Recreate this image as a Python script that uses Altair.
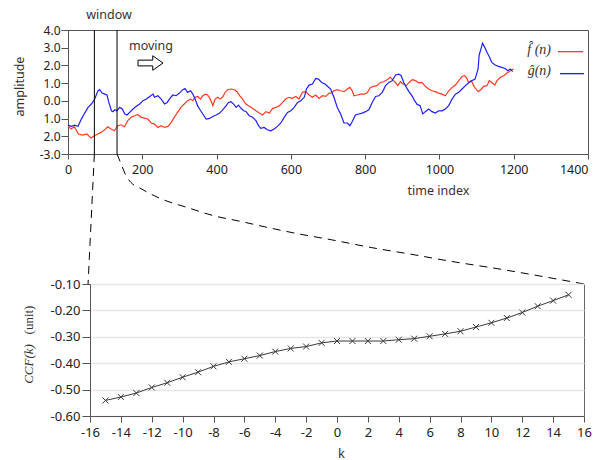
import altair as alt
import pandas as pd

# ---------------- data ----------------
f_t = [0, 8, 17, 28, 40, 51, 62, 71, 80, 89, 98, 107, 116, 125, 134, 143, 152, 161, 170, 179,
       188, 197, 206, 215, 224, 233, 242, 251, 260, 269, 278, 286, 295, 304, 313, 322, 330, 336,
       342, 349, 357, 363, 370, 376, 383, 390, 396, 403, 410, 417, 423, 430, 439, 448, 455, 462,
       470, 479, 488, 497, 506, 515, 524, 533, 542, 551, 560, 569, 578, 586, 595, 604, 613, 622,
       631, 640, 649, 658, 667, 676, 685, 694, 703, 710, 716, 725, 734, 743, 752, 759, 765, 770,
       779, 788, 797, 805, 814, 823, 832, 841, 850, 859, 868, 876, 882, 888, 895, 902, 911, 918,
       927, 936, 944, 953, 962, 971, 980, 989, 998, 1007, 1016, 1025, 1034, 1043, 1052, 1061,
       1068, 1074, 1078, 1086, 1092, 1098, 1105, 1113, 1119, 1128, 1134, 1141, 1149, 1155, 1164,
       1173, 1182, 1191, 1200]
f_v = [-1.40, -1.59, -1.46, -1.87, -1.93, -1.87, -2.10, -1.97, -1.87, -1.78, -1.65, -1.46, -1.59,
       -1.69, -1.40, -1.35, -1.46, -1.12, -0.93, -0.84, -0.78, -0.93, -0.97, -1.03, -1.25, -1.31,
       -1.50, -1.40, -1.50, -1.44, -1.21, -0.93, -0.65, -0.37, -0.18, 0.01, 0.10, 0.01, 0.20, 0.25,
       0.10, 0.29, 0.38, 0.33, 0.10, -0.27, 0.10, 0.20, 0.10, 0.23, 0.48, 0.63, 0.67, 0.63, 0.52,
       0.30, 0.10, -0.18, -0.31, -0.42, -0.56, -0.69, -0.80, -0.61, -0.69, -0.42, -0.37, -0.27,
       -0.09, 0.10, 0.20, 0.14, 0.25, 0.10, 0.48, 0.52, 0.33, 0.20, 0.33, 0.14, 0.29, 0.25, 0.44,
       0.45, 0.57, 0.63, 0.57, 0.52, 0.67, 0.76, 0.57, 0.29, 0.33, 0.38, 0.38, 0.44, 0.76, 0.82,
       0.86, 1.04, 1.08, 1.19, 1.33, 1.14, 1.04, 0.86, 1.08, 0.95, 0.86, 1.04, 1.19, 1.14, 1.01,
       1.04, 0.82, 0.67, 0.57, 0.52, 0.44, 0.38, 0.29, 0.57, 0.76, 0.89, 1.14, 1.38, 1.42, 1.27,
       1.04, 1.14, 0.86, 0.67, 0.52, 0.67, 0.82, 0.86, 1.14, 1.04, 0.89, 1.14, 1.33, 1.42, 1.57,
       1.70, 1.80]

g_t = [0, 9, 18, 27, 36, 45, 54, 63, 72, 76, 81, 85, 92, 99, 105, 110, 117, 121, 126, 132, 139,
       146, 153, 159, 166, 175, 184, 193, 202, 211, 220, 229, 233, 242, 251, 260, 267, 273, 282,
       291, 300, 309, 315, 322, 330, 336, 342, 349, 357, 363, 372, 381, 390, 399, 408, 417, 426,
       432, 439, 446, 453, 459, 466, 473, 479, 488, 497, 506, 513, 519, 528, 537, 546, 555, 564,
       573, 582, 591, 600, 609, 618, 627, 636, 642, 649, 658, 667, 674, 683, 692, 700, 707, 716,
       725, 734, 743, 752, 759, 765, 774, 783, 792, 801, 810, 819, 828, 837, 846, 855, 864, 873,
       882, 891, 897, 904, 911, 918, 927, 933, 940, 948, 955, 962, 971, 980, 989, 998, 1007, 1016,
       1025, 1034, 1043, 1052, 1061, 1070, 1078, 1087, 1096, 1104, 1107, 1113, 1116, 1122, 1128,
       1134, 1141, 1150, 1159, 1168, 1177, 1184, 1191, 1197]
g_v = [-1.37, -1.44, -1.37, -1.44, -1.03, -0.69, -0.37, -0.18, 0.10, 0.33, 0.57, 0.63, 0.44, 0.38,
       0.33, -0.09, -0.56, -0.61, -0.50, -0.56, -0.37, -0.46, -0.74, -0.80, -0.65, -0.46, -0.31,
       -0.18, 0.01, 0.10, 0.25, 0.38, 0.20, 0.29, 0.10, -0.18, -0.09, 0.10, 0.33, 0.29, 0.44, 0.63,
       0.70, 0.48, 0.57, 0.38, 0.10, -0.27, -0.56, -0.74, -1.03, -0.99, -0.88, -0.80, -0.69, -0.50,
       -0.27, -0.09, -0.05, -0.18, -0.37, -0.24, -0.42, -0.56, -0.60, -0.84, -0.93, -1.12, -1.40,
       -1.55, -1.50, -1.63, -1.69, -1.59, -1.44, -1.25, -0.93, -0.65, -0.56, -0.37, -0.09, 0.01,
       0.20, 0.67, 0.89, 0.95, 1.27, 1.23, 1.04, 0.95, 0.80, 0.67, 0.20, -0.37, -0.74, -1.25,
       -1.25, -1.40, -1.18, -0.80, -0.74, -0.69, -0.61, -0.50, -0.09, 0.25, 0.29, 0.48, 0.86, 1.04,
       1.14, 1.46, 1.51, 1.42, 1.04, 0.76, 0.52, 0.25, 0.01, -0.20, -0.27, -0.74, -0.61, -0.46,
       -0.61, -0.69, -0.56, -0.56, -0.46, -0.27, 0.10, 0.38, 0.48, 0.67, 0.86, 1.01, 1.14, 1.23,
       1.80, 2.59, 3.02, 3.26, 3.02, 2.74, 2.51, 2.17, 2.02, 1.95, 1.89, 1.83, 1.70, 1.80, 1.65]

k_vals = list(range(-15, 16))
ccf_vals = [-0.541, -0.528, -0.513, -0.492, -0.474, -0.453, -0.434, -0.412, -0.395, -0.383,
            -0.371, -0.356, -0.344, -0.337, -0.323, -0.316, -0.316, -0.316, -0.316, -0.311,
            -0.307, -0.298, -0.289, -0.279, -0.263, -0.247, -0.229, -0.208, -0.184, -0.163,
            -0.141]

window_t = [71, 132]
conn_left_t = [71, 54]
conn_left_v = [-3.0, -10.34]
conn_right_t = [132, 142.8, 156.3, 169.7, 196.7, 250.5, 322.5, 393.3, 466, 538, 618.8, 708.5,
                816.3, 932.1, 1022.9, 1157.6, 1390.1]
conn_right_v = [-3.0, -3.55, -4.23, -4.61, -4.96, -5.53, -6.03, -6.49, -6.81, -7.15, -7.50,
                -7.84, -8.28, -8.69, -9.03, -9.48, -10.34]

top_x_ticks = [0, 200, 400, 600, 800, 1000, 1200, 1400]
top_y_ticks = [4, 3, 2, 1, 0, -1, -2, -3]
top_y_labels = ["4.0", "3.0", "2.0", "1.0", "0.0", "1.0", "2.0", "-3.0"]
bot_x_ticks = list(range(-16, 17, 2))
bot_y_ticks = [-0.6, -0.5, -0.4, -0.3, -0.2, -0.1]

series_names = ["f", "g"]
series_colors = ["#ff3b1f", "#1f1fff"]
legend_texts = ["f\u0302 (n)", "\u011d(n)"]
ccf_title_parts = ["CCF(k)", "(unit)"]

FONT = "Noto Sans"
LABEL = "#222222"
TITLE = "#333333"
AXC = "#555555"

# ---------------- top panel ----------------
ts = pd.concat([
    pd.DataFrame({"t": f_t, "v": f_v, "s": "f"}),
    pd.DataFrame({"t": g_t, "v": g_v, "s": "g"}),
])

expr = "'" + top_y_labels[-1] + "'"
for val, lab in list(zip(top_y_ticks, top_y_labels))[-2::-1]:
    expr = f"datum.value == {val} ? '{lab}' : ({expr})"

xs = alt.Scale(domain=[0, 1400], nice=False, zero=False)
ys = alt.Scale(domain=[-3, 4], nice=False, zero=False)

x_axis = alt.Axis(values=top_x_ticks, labelExpr="format(datum.value, 'd')",
                  title="time index", grid=False, titleX=370, titleY=40,
                  titleBaseline="alphabetic", titleAlign="center", titleFont=FONT,
                  titleFontSize=12.5, titleFontWeight="normal", titleColor=TITLE,
                  labelFont=FONT, labelFontSize=12.5, labelColor=LABEL, labelPadding=4,
                  labelAlign={"condition": {"test": f"datum.value == {top_x_ticks[-1]}",
                                            "value": "right"}, "value": "center"},
                  labelOverlap=False, tickSize=5, tickColor=AXC, domainColor=AXC,
                  labelFlush=False)
y_axis = alt.Axis(values=top_y_ticks, labelExpr=expr, title="amplitude", grid=False,
                  titleX=-49, titleY=56, titleAngle=270, titleAlign="center",
                  titleBaseline="middle", titleFont=FONT, titleFontSize=12.5,
                  titleFontWeight="normal", titleColor=TITLE, labelFont=FONT,
                  labelFontSize=12, labelColor=LABEL, labelPadding=1, tickSize=7,
                  labelOverlap=False, labelBound=False, tickColor=AXC, domainColor=AXC)

X = alt.X("t:Q", scale=xs, axis=x_axis)
Y = alt.Y("v:Q", scale=ys, axis=y_axis)

lines = alt.Chart(ts).mark_line(strokeWidth=1.2).encode(
    x=X, y=Y,
    color=alt.Color("s:N", scale=alt.Scale(domain=series_names, range=series_colors),
                    legend=None),
)

win = alt.Chart(pd.DataFrame({"t": window_t})).mark_rule(color="black", strokeWidth=1).encode(
    x=X
)

conn = pd.concat([
    pd.DataFrame({"t": conn_left_t, "v": conn_left_v, "c": "L",
                  "o": list(range(len(conn_left_t)))}),
    pd.DataFrame({"t": conn_right_t, "v": conn_right_v, "c": "R",
                  "o": list(range(len(conn_right_t)))}),
])
conn_line = alt.Chart(conn).mark_line(color="black", strokeWidth=1, strokeDash=[8, 6],
                                      interpolate="monotone", clip=False).encode(
    x=X, y=Y,
    detail="c:N",
    order="o:Q",
)

one = pd.DataFrame({"a": [0]})
txt_window = alt.Chart(one).mark_text(text="window", font=FONT, fontSize=12.5, color=TITLE,
                                      align="center", baseline="alphabetic").encode(
    x=alt.value(41), y=alt.value(-11))
txt_moving = alt.Chart(one).mark_text(text="moving", font=FONT, fontSize=12.5, color=TITLE,
                                      align="center", baseline="alphabetic").encode(
    x=alt.value(83), y=alt.value(20))
arrow_path = "M -1 -0.23 L 0.18 -0.23 L 0.18 -0.58 L 1 0 L 0.18 0.58 L 0.18 0.23 L -1 0.23 Z"
arrow = alt.Chart(one).mark_point(shape=arrow_path, size=625, filled=True, fill="white",
                                  stroke="black", strokeWidth=1, opacity=1).encode(
    x=alt.value(82.5), y=alt.value(33))

leg_f_txt = alt.Chart(one).mark_text(text=legend_texts[0], font="Liberation Serif",
                                     fontStyle="italic", fontSize=14, color="#333333",
                                     align="right", baseline="alphabetic").encode(
    x=alt.value(483), y=alt.value(24))
leg_g_txt = alt.Chart(one).mark_text(text=legend_texts[1], font="Liberation Serif",
                                     fontStyle="italic", fontSize=14, color="#333333",
                                     align="right", baseline="alphabetic").encode(
    x=alt.value(483), y=alt.value(45))
leg_f_line = alt.Chart(one).mark_rect(fill=series_colors[0], strokeWidth=0).encode(
    x=alt.value(490), x2=alt.value(515), y=alt.value(21), y2=alt.value(22.3))
leg_g_line = alt.Chart(one).mark_rect(fill=series_colors[1], strokeWidth=0).encode(
    x=alt.value(492), x2=alt.value(516), y=alt.value(43), y2=alt.value(44.3))

top = alt.layer(lines, conn_line, win, txt_window, txt_moving, arrow,
                leg_f_txt, leg_g_txt, leg_f_line, leg_g_line).properties(
    width=520, height=124,
    view=alt.ViewBackground(stroke="#555555", strokeWidth=1),
)

# ---------------- bottom panel ----------------
ccf = pd.DataFrame({"k": k_vals, "c": ccf_vals})
bx = alt.X("k:Q", scale=alt.Scale(domain=[-16, 16], nice=False, zero=False),
           axis=alt.Axis(values=bot_x_ticks,
                         labelExpr="replace(format(datum.value, 'd'), '\u2212', '-')",
                         title="k", grid=False, titleX=251, titleY=41,
                         titleBaseline="alphabetic", titleFont=FONT, titleFontSize=13,
                         titleFontWeight="normal", titleColor=TITLE, labelFont=FONT,
                         labelFontSize=13, labelColor=LABEL, labelPadding=4, tickSize=6,
                         labelOverlap=False, tickColor=AXC, domainColor=AXC,
                         labelFlush=False))
by = alt.Y("c:Q", scale=alt.Scale(domain=[-0.6, -0.1], nice=False, zero=False),
           axis=alt.Axis(values=bot_y_ticks,
                         labelExpr="replace(format(datum.value, '.2f'), '\u2212', '-')",
                         title="", grid=True, gridColor="#e6e6e6", gridWidth=1.5,
                         labelFont=FONT, labelFontSize=13, labelColor=LABEL, labelPadding=2,
                         labelOverlap=False, tickSize=8, tickColor=AXC, domainColor=AXC))
base = alt.Chart(ccf).encode(x=bx, y=by)
ccf_line = base.mark_line(color="#3a3a3a", strokeWidth=1)
ccf_pts = base.mark_point(shape="M -1 -1 L 1 1 M -1 1 L 1 -1", size=36, filled=False,
                          color="#3a3a3a", strokeWidth=1, opacity=1)
ttl_ccf = alt.Chart(one).mark_text(text=ccf_title_parts[0], font="Liberation Serif",
                                   fontStyle="italic", fontSize=13, color=TITLE, angle=270,
                                   align="center", baseline="middle").encode(
    x=alt.value(-61), y=alt.value(80))
ttl_unit = alt.Chart(one).mark_text(text=ccf_title_parts[1], font="Liberation Serif",
                                    fontSize=13, color=TITLE, angle=270,
                                    align="center", baseline="middle").encode(
    x=alt.value(-61), y=alt.value(36))
bottom = alt.layer(ccf_line, ccf_pts, ttl_ccf, ttl_unit).properties(
    width=494, height=132,
    view=alt.ViewBackground(stroke="#666666", strokeWidth=1),
)

spacer = alt.Chart(one).mark_point(opacity=0).encode(
    x=alt.value(0), y=alt.value(0)
).properties(width=22, height=132, view=alt.ViewBackground(stroke="transparent"))

lower = alt.hconcat(spacer, bottom, spacing=0, bounds="flush")

chart = alt.vconcat(top, lower, spacing=130, bounds="flush").properties(
    padding={"left": 4, "top": 0, "right": 0, "bottom": 0},
    background="white",
)

chart.save("out.html", embed_options={"renderer": "svg", "actions": False})
